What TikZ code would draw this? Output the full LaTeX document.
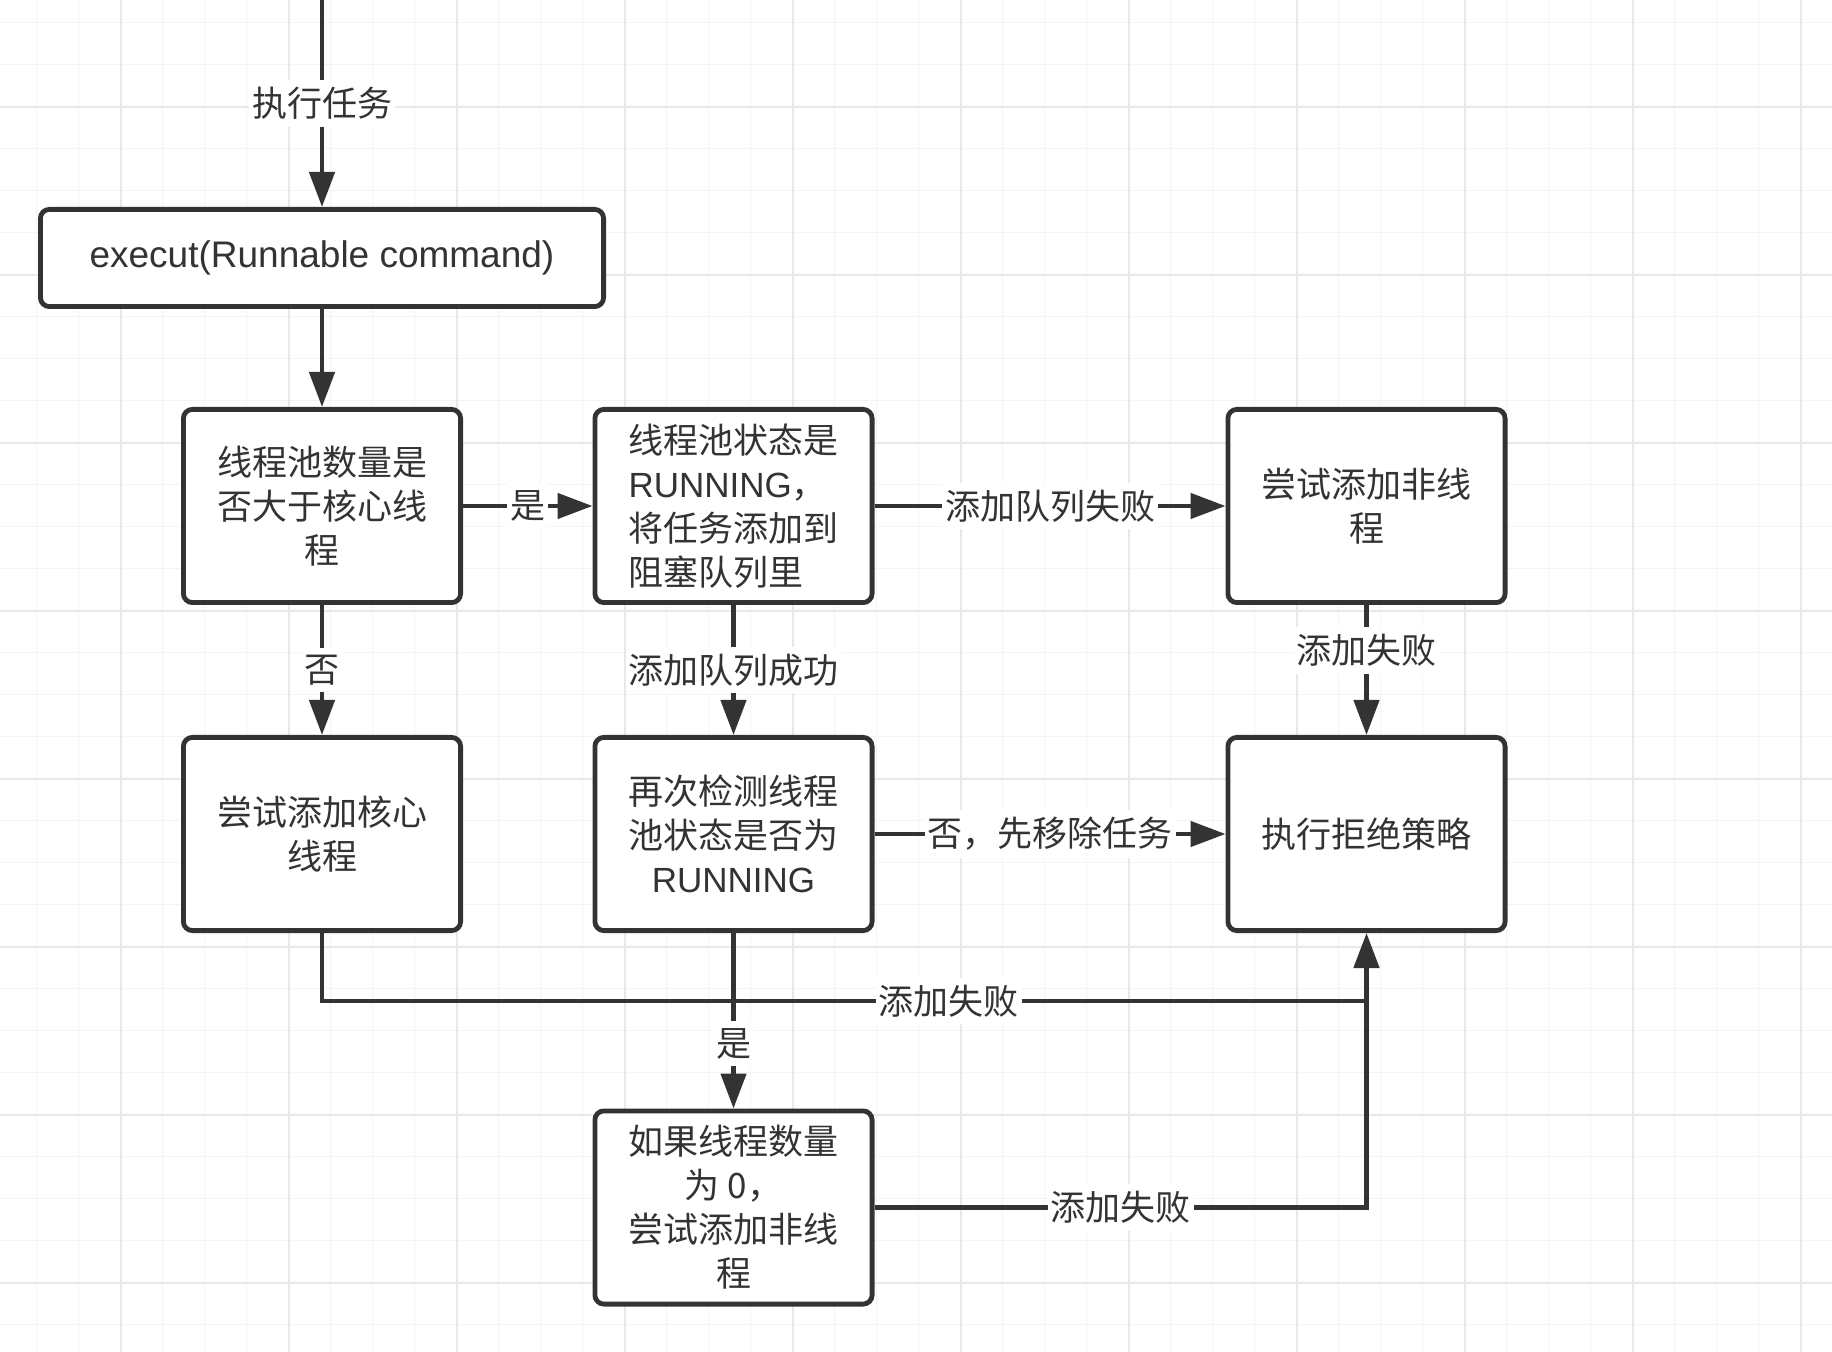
\documentclass[tikz,border=0pt]{standalone}
\usepackage{fontspec}
\setmainfont{Noto Sans CJK SC}
\newfontfamily\arial{Liberation Sans}
\usetikzlibrary{arrows.meta}
\definecolor{ink}{HTML}{333333}
\definecolor{gridminor}{HTML}{F4F4F4}
\definecolor{gridmajor}{HTML}{E8E8E8}

\begin{document}
\begin{tikzpicture}[x=0.5pt, y=-0.5pt,
  font=\fontsize{17.5pt}{22pt}\selectfont,
  box/.style={draw=ink, line width=2.4pt, rounded corners=4.5pt, fill=white, text=ink, minimum width=138.6pt, minimum height=96.6pt, inner sep=0pt, align=center},
  lbl/.style={fill=white, text=ink, inner xsep=1.5pt, inner ysep=3.5pt},
  link/.style={draw=ink, line width=2.3pt},
  arr/.style={link, -{Triangle[length=17.5pt, width=12.5pt]}},
  minor/.style={draw=gridminor, line width=0.65pt},
  major/.style={draw=gridmajor, line width=0.85pt}]
\fill[white] (0,0) rectangle (1832,1352);
\useasboundingbox (0,0) rectangle (1832,1352);
\foreach \k in {0,...,43} \draw[minor] ({36.7+42*\k},0) -- ++(0,1352);
\foreach \k in {0,...,31} \draw[minor] (0,{22.7+42*\k}) -- ++(1832,0);
\foreach \k in {0,...,10} \draw[major] ({120.7+168*\k},0) -- ++(0,1352);
\foreach \k in {0,...,7} \draw[major] (0,{106.7+168*\k}) -- ++(1832,0);

\coordinate (start) at (322,0);
\coordinate (join) at (1366.5,1001);
\node[box, minimum width=281.6pt, minimum height=48.6pt, font=\arial\fontsize{18.5pt}{22pt}\selectfont] (exec) at (322,258) {execut(Runnable command)};
\node[box] (count) at (322,506) {线程池数量是\\否大于核心线\\程};
\node[box, align=left] (queue) at (733.5,506) {线程池状态是\\{\arial RUNNING}，\\将任务添加到\\阻塞队列里};
\node[box] (noncore) at (1366.5,506) {尝试添加非线\\程};
\node[box] (core) at (322,834) {尝试添加核心\\线程};
\node[box] (recheck) at (733.5,834) {再次检测线程\\池状态是否为\\{\arial RUNNING}};
\node[box] (reject) at (1366.5,834) {执行拒绝策略};
\node[box] (zero) at (733.5,1207.5) {如果线程数量\\为 0，\\尝试添加非线\\程};

\draw[arr] (start) -- node[lbl]{执行任务} (exec);
\draw[arr] (exec) -- (count);
\draw[arr] (count) -- node[lbl]{是} (queue);
\draw[arr] (queue) -- node[lbl]{添加队列失败} (noncore);
\draw[arr] (count) -- node[lbl]{否} (core);
\draw[arr] (queue) -- node[lbl]{添加队列成功} (recheck);
\draw[arr] (noncore) -- node[lbl, pos=0.35]{添加失败} (reject);
\draw[arr] (recheck) -- node[lbl]{否，先移除任务} (reject);
\draw[link] (core) |- node[lbl, pos=0.8]{添加失败} (join);
\draw[arr] (recheck) -- node[lbl, pos=0.63]{是} (zero);
\draw[arr] (zero) -| node[lbl, pos=0.25]{添加失败} (reject);
\end{tikzpicture}
\end{document}
